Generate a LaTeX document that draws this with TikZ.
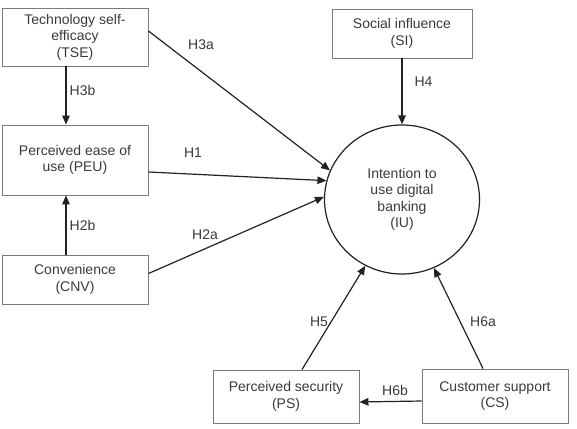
\documentclass[tikz,border=0pt]{standalone}
\usepackage{fontspec}
\setmainfont{Liberation Sans}
\usetikzlibrary{arrows.meta,shapes.geometric}
\definecolor{txt}{HTML}{3A3A3A}
\definecolor{boxline}{HTML}{7A7A7A}
\definecolor{arr}{HTML}{222222}
\begin{document}
\begin{tikzpicture}[x=1pt,y=-1pt,
  every node/.style={font=\fontsize{14}{16.4}\selectfont, text=txt},
  construct/.style={draw=boxline, line width=0.9pt, rectangle, inner sep=0pt,
    align=center, minimum width=146pt},
  outcome/.style={draw=arr, line width=1.2pt, ellipse, inner sep=0pt,
    align=center, minimum width=155pt, minimum height=149pt},
  path/.style={draw=arr, line width=1.2pt, -{Triangle[length=9pt,width=7.5pt]}},
  hyp/.style={inner sep=0pt}]
  \useasboundingbox (0,0) rectangle (577,428);

  % constructs
  \node[construct, minimum height=58pt] (TSE) at (75,37) {Technology self-\\efficacy\\(TSE)};
  \node[construct, minimum height=70pt] (PEU) at (75,160) {Perceived ease of\\use (PEU)};
  \node[construct, minimum height=49pt] (CNV) at (75,279.5) {Convenience\\(CNV)};
  \node[construct, minimum width=140pt, minimum height=49pt] (SI) at (402,33.5) {Social influence\\(SI)};
  \node[construct, minimum height=53pt] (PS) at (286,396.5) {Perceived security\\(PS)};
  \node[construct, minimum height=54pt] (CS) at (495,396) {Customer support\\(CS)};
  \node[outcome] (IU) at (402,199.5) {Intention to\\use digital\\banking\\(IU)};

  % hypothesised paths
  \draw[path] ([xshift=-9pt]TSE.south) -- ([xshift=-9pt]PEU.north);
  \draw[path] ([xshift=-9pt]CNV.north) -- ([xshift=-9pt]PEU.south);
  \draw[path] ([yshift=6pt]TSE.east) -- (IU.158);
  \draw[path] ([yshift=-12pt]PEU.east) -- (IU.166);
  \draw[path] ([yshift=6pt]CNV.east) -- (IU.178.5);
  \draw[path] (SI.south) -- (IU.90);
  \draw[path] ([xshift=16pt]PS.north) -- (IU.241.8);
  \draw[path] ([xshift=-12pt]CS.north) -- (IU.295.6);
  \draw[path] ([yshift=-5pt]CS.west) -- ([yshift=-5.5pt]PS.east);

  % hypothesis labels
  \node[hyp] (h3b) at (82.5,90) {H3b};
  \node[hyp] (h2b) at (82.5,225) {H2b};
  \node[hyp] (h3a) at (201,45) {H3a};
  \node[hyp] (h1) at (193,153) {H1};
  \node[hyp] (h2a) at (205,235) {H2a};
  \node[hyp] (h4) at (423.5,82) {H4};
  \node[hyp] (h5) at (319,322) {H5};
  \node[hyp] (h6a) at (483,322) {H6a};
  \node[hyp] (h6b) at (395,390) {H6b};
\end{tikzpicture}
\end{document}
